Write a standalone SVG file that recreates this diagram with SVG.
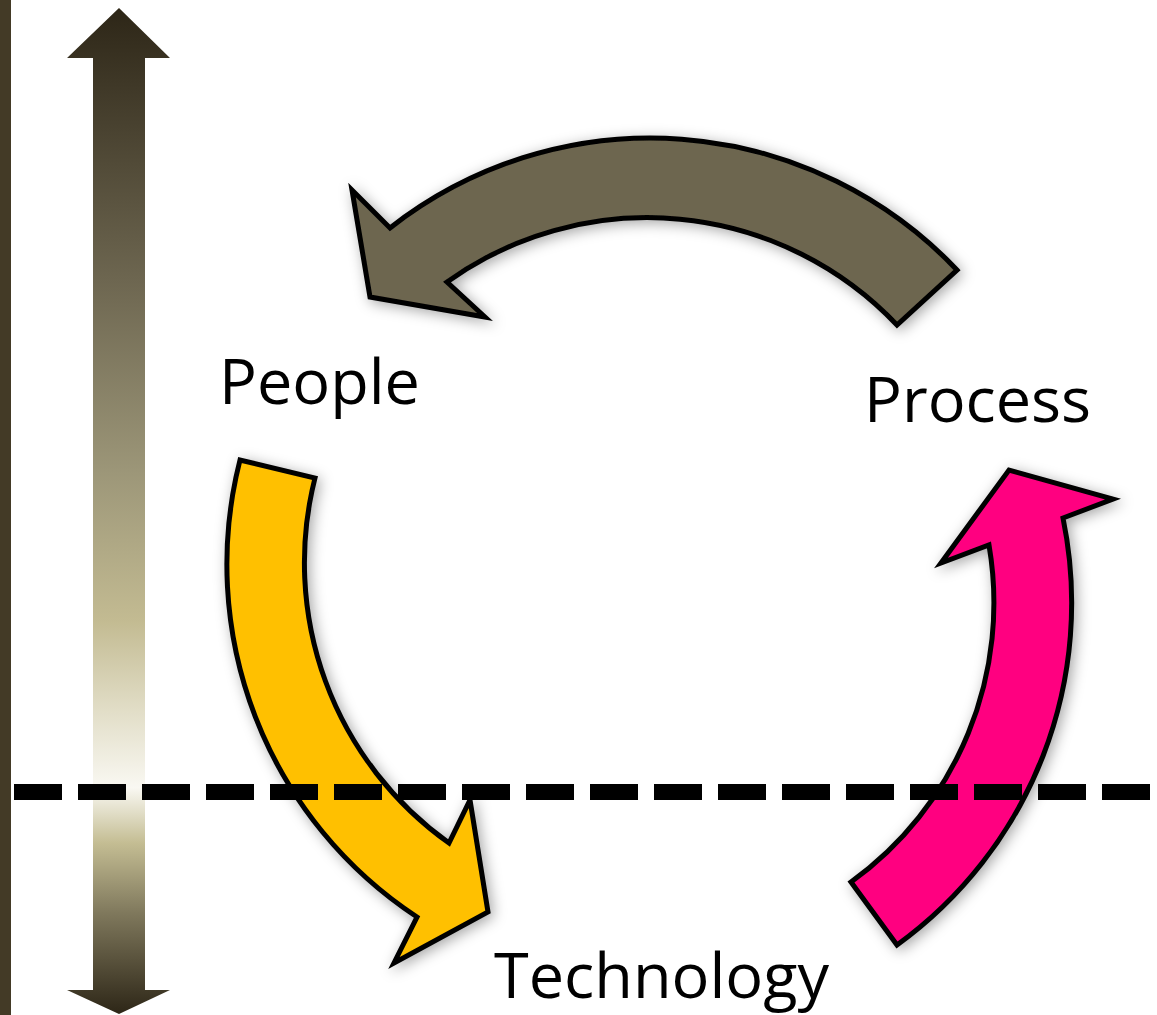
<svg xmlns="http://www.w3.org/2000/svg" width="1157" height="1015" viewBox="0 0 1157 1015">
<style>
.lbl{font-family:"Open Sans","Noto Sans","Liberation Sans",sans-serif;font-size:63px;fill:#000}
.arr{stroke:#000;stroke-width:5;stroke-linejoin:miter;filter:url(#sh)}
</style>
<defs>
<linearGradient id="vg" gradientUnits="userSpaceOnUse" x1="0" y1="8" x2="0" y2="1014">
<stop offset="0" stop-color="#2d2617"/>
<stop offset="0.27" stop-color="#6d6650"/>
<stop offset="0.46" stop-color="#9c9678"/>
<stop offset="0.61" stop-color="#c3bb92"/>
<stop offset="0.70" stop-color="#e2dec8"/>
<stop offset="0.775" stop-color="#f9f8f2"/>
<stop offset="0.83" stop-color="#c4bd93"/>
<stop offset="0.90" stop-color="#7f785c"/>
<stop offset="1" stop-color="#2d2617"/>
</linearGradient>
<filter id="sh" x="-20%" y="-20%" width="140%" height="140%">
<feDropShadow dx="3" dy="3" stdDeviation="7" flood-color="#000" flood-opacity="0.35"/>
</filter>
</defs>
<rect width="1157" height="1015" fill="#fff"/>
<g id="left-bar"><rect x="0" y="0" width="11" height="1015" fill="#433a26"/></g>
<g id="vertical-arrow"><polygon points="119,8 170,58 145,58 145,990 170,990 119,1014 67,990 93,990 93,58 67,58" fill="url(#vg)"/></g>
<g id="connectors">
<path id="arrow-process-people" class="arr" fill="#6d6650" d="M957,270 A422,422 0 0 0 390,228 L352,190 L370,297 L485,317 L447,282 A344,344 0 0 1 897,325 Z"/>
<path id="arrow-people-technology" class="arr" fill="#ffc000" d="M240,460 A422,422 0 0 0 417,917 L394,963 L488,912 L470,800 L449,843 A344,344 0 0 1 315,478 Z"/>
<path id="arrow-technology-process" class="arr" fill="#ff0080" d="M897,945 A422,422 0 0 0 1063,518 L1113,499 L1009,470 L941,563 L989,545 A344,344 0 0 1 851,882 Z"/>
</g>
<g id="dashed-line"><line x1="14" y1="792" x2="1157" y2="792" stroke="#000" stroke-width="16" stroke-dasharray="48 16"/></g>
<g id="node-people"><text class="lbl" x="219" y="404">People</text></g>
<g id="node-process"><text class="lbl" x="864" y="422">Process</text></g>
<g id="node-technology"><text class="lbl" x="494" y="998">Technology</text></g>
</svg>
